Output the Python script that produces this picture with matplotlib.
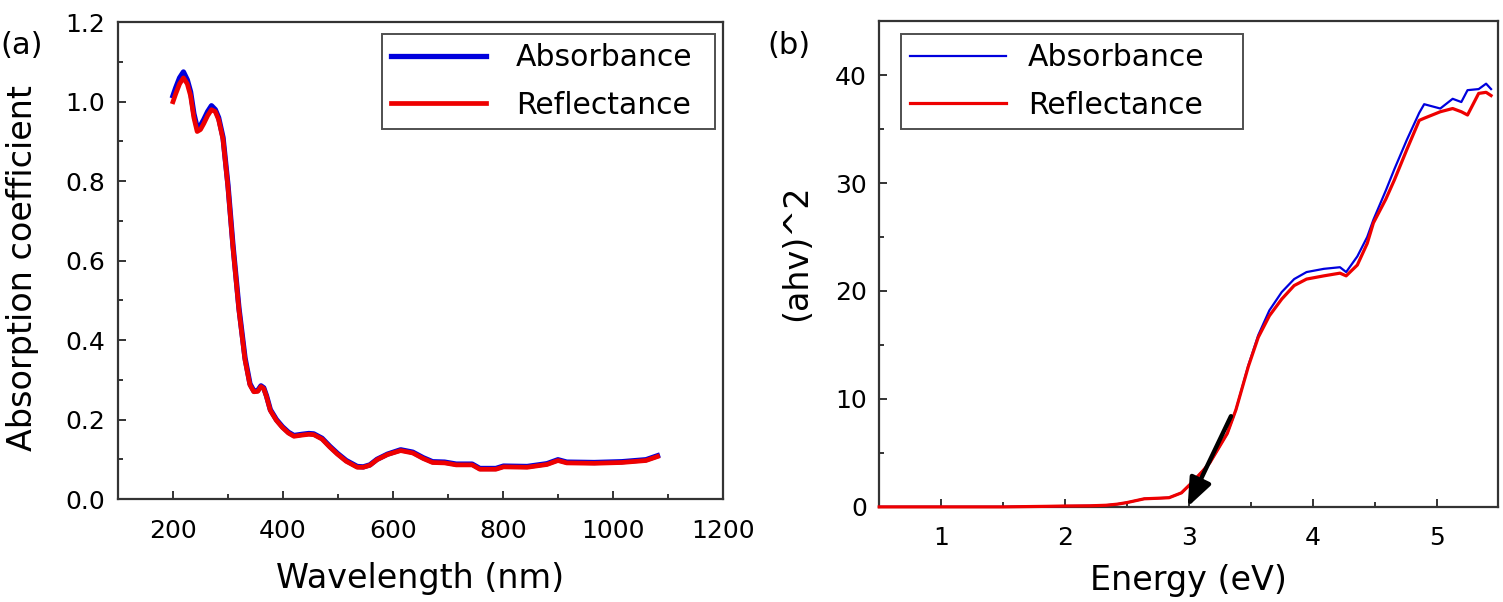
import matplotlib
matplotlib.use("Agg")
import matplotlib.pyplot as plt
from matplotlib.ticker import MultipleLocator

plt.rcParams['font.family'] = ['DejaVu Sans']

# panel (a): absorption coefficient vs wavelength
wavelength = [200, 205, 212, 219, 226, 232, 238, 244, 250, 256, 263, 270, 277, 283, 291,
              300, 309, 320, 331, 340, 347, 354, 360, 365, 370, 377, 388, 399, 410, 420,
              435, 447, 456, 471, 485, 499, 515, 535, 546, 558, 571, 590, 614, 636, 655,
              672, 694, 715, 744, 758, 787, 801, 844, 880, 900, 916, 966, 1016, 1060, 1081]
abs_a = [1.015, 1.035, 1.06, 1.075, 1.055, 1.025, 0.97, 0.935, 0.94, 0.955, 0.975, 0.99,
         0.98, 0.96, 0.91, 0.79, 0.64, 0.48, 0.355, 0.29, 0.272, 0.273, 0.285, 0.28, 0.26,
         0.225, 0.2, 0.182, 0.168, 0.16, 0.163, 0.165, 0.164, 0.153, 0.133, 0.115, 0.097,
         0.082, 0.081, 0.086, 0.1, 0.113, 0.124, 0.118, 0.104, 0.094, 0.093, 0.088, 0.088,
         0.077, 0.077, 0.083, 0.082, 0.089, 0.099, 0.093, 0.092, 0.094, 0.099, 0.109]
refl_a = [1.0, 1.02, 1.045, 1.06, 1.045, 1.015, 0.96, 0.925, 0.93, 0.945, 0.965, 0.98,
          0.975, 0.955, 0.905, 0.785, 0.635, 0.475, 0.35, 0.287, 0.27, 0.271, 0.283, 0.278,
          0.258, 0.223, 0.198, 0.18, 0.166, 0.158, 0.161, 0.163, 0.162, 0.151, 0.131, 0.113,
          0.095, 0.08, 0.08, 0.085, 0.099, 0.112, 0.122, 0.116, 0.102, 0.092, 0.091, 0.086,
          0.086, 0.075, 0.075, 0.081, 0.08, 0.087, 0.097, 0.091, 0.09, 0.092, 0.097, 0.107]

# panel (b): (ahv)^2 vs photon energy
energy = [0.5, 1.0, 1.5, 1.85, 2.0, 2.2, 2.33, 2.42, 2.5, 2.58, 2.64, 2.75, 2.84, 2.94,
          3.02, 3.11, 3.17, 3.31, 3.38, 3.48, 3.56, 3.65, 3.75, 3.85, 3.95, 4.09, 4.22,
          4.27, 4.36, 4.44, 4.49, 4.59, 4.66, 4.76, 4.86, 4.90, 5.03, 5.13, 5.20, 5.25,
          5.34, 5.40, 5.44]
abs_b = [0, 0, 0, 0.05, 0.08, 0.1, 0.15, 0.25, 0.4, 0.6, 0.75, 0.8, 0.85, 1.3, 2.2, 3.3,
         4.1, 6.8, 9.0, 13.1, 15.9, 18.2, 19.9, 21.1, 21.75, 22.05, 22.2, 21.75, 23.2, 25.0,
         26.6, 29.3, 31.3, 34.0, 36.5, 37.3, 36.9, 37.8, 37.5, 38.6, 38.7, 39.2, 38.7]
refl_b = [0, 0, 0, 0.05, 0.08, 0.1, 0.15, 0.25, 0.4, 0.6, 0.75, 0.8, 0.85, 1.3, 2.2, 3.3,
          4.1, 6.8, 9.0, 13.0, 15.7, 17.7, 19.25, 20.5, 21.1, 21.4, 21.65, 21.4, 22.4, 24.4,
          26.3, 28.5, 30.3, 33.1, 35.8, 36.0, 36.6, 36.9, 36.6, 36.3, 38.3, 38.4, 38.1]

# tangent arrow (band gap extrapolation)
arrow_tail = (3.34, 8.4)
arrow_head = (2.99, 0.0)

blue = '#0000dd'
red = '#ee0000'
spine_c = '#333333'

fig = plt.figure(figsize=(15.03, 6.02), dpi=100)
ax1 = fig.add_axes([0.0785, 0.171, 0.4025, 0.792])
ax2 = fig.add_axes([0.585, 0.158, 0.412, 0.807])


def style(ax):
    for s in ax.spines.values():
        s.set_color(spine_c)
        s.set_linewidth(1.6)
    ax.tick_params(which='both', direction='in', top=False, right=False,
                   color=spine_c, width=1.4, labelsize=18)
    ax.tick_params(axis='x', which='both', pad=14)
    ax.tick_params(axis='y', which='both', pad=9)
    ax.tick_params(which='major', length=6)
    ax.tick_params(which='minor', length=3.5)


def legend(ax, box, tpad):
    leg = ax.legend(loc='upper left', bbox_to_anchor=box, mode='expand', fontsize=21.5,
                    frameon=True, fancybox=False, edgecolor='#222222', handlelength=3.2,
                    handletextpad=tpad, borderpad=0.3, labelspacing=0.62, borderaxespad=0)
    leg.get_frame().set_linewidth(1.4)
    return leg


ax1.plot(wavelength, abs_a, color=blue, lw=3.8, label='Absorbance')
ax1.plot(wavelength, refl_a, color=red, lw=3.4, label='Reflectance')
ax1.set_xlim(100, 1200)
ax1.set_ylim(0, 1.2)
ax1.xaxis.set_major_locator(MultipleLocator(200))
ax1.xaxis.set_minor_locator(MultipleLocator(100))
ax1.yaxis.set_major_locator(MultipleLocator(0.2))
ax1.yaxis.set_minor_locator(MultipleLocator(0.1))
ax1.yaxis.set_major_formatter(plt.FormatStrFormatter('%.1f'))
style(ax1)
ax1.set_xlabel('Wavelength (nm)', fontsize=24, labelpad=14)
ax1.set_ylabel('Absorption coefficient', fontsize=24)
ax1.yaxis.set_label_coords(-0.131, 0.484)
legend(ax1, (0.436, 0.774, 0.551, 0.201), 1.0)

ax2.plot(energy, abs_b, color=blue, lw=1.6, label='Absorbance', clip_on=False, zorder=3)
ax2.plot(energy, refl_b, color=red, lw=2.3, label='Reflectance', clip_on=False, zorder=3)
ax2.annotate('', xy=arrow_head, xytext=arrow_tail,
             arrowprops=dict(arrowstyle='-|>,head_length=0.45,head_width=0.18',
                             color='black', lw=3.2, mutation_scale=38,
                             shrinkA=0, shrinkB=0), zorder=4)
ax2.set_xlim(0.5, 5.5)
ax2.set_ylim(0, 45)
ax2.xaxis.set_major_locator(MultipleLocator(1))
ax2.xaxis.set_minor_locator(MultipleLocator(0.5))
ax2.yaxis.set_major_locator(MultipleLocator(10))
ax2.yaxis.set_minor_locator(MultipleLocator(5))
style(ax2)
ax2.set_xlabel('Energy (eV)', fontsize=24, labelpad=10)
ax2.set_ylabel('(ahv)^2', fontsize=24)
ax2.yaxis.set_label_coords(-0.107, 0.523)
legend(ax2, (0.0355, 0.774, 0.552, 0.199), 0.75)

fig.text(0.0147, 0.925, '(a)', fontsize=22, ha='center', va='center')
fig.text(0.525, 0.925, '(b)', fontsize=22, ha='center', va='center')

fig.savefig('out.png', dpi=100)
